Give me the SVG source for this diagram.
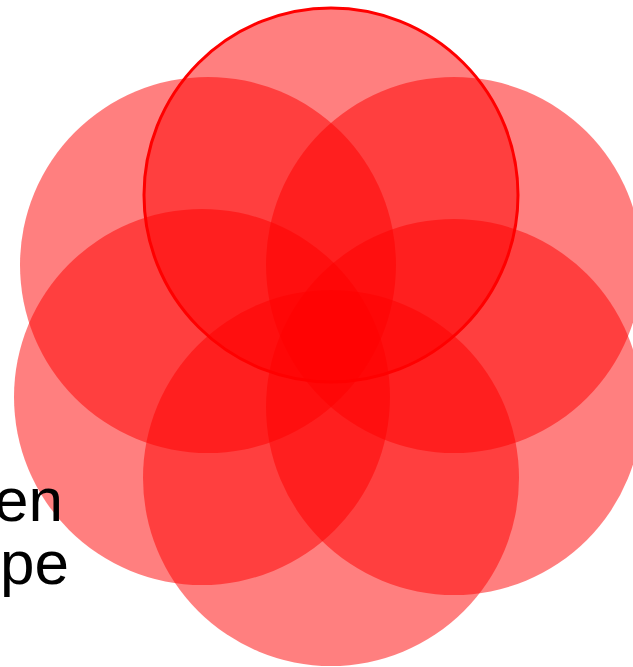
<svg xmlns="http://www.w3.org/2000/svg" width="633" height="667" viewBox="0 0 633 667">
<style>
.c{fill:#ff0000;fill-opacity:0.5}
.t{font-family:"Liberation Sans",Arial,sans-serif;font-size:62px;fill:#000;text-anchor:end}
</style>
<rect width="633" height="667" fill="#fff"/>
<g id="c-ul"><circle class="c" cx="208" cy="265" r="188"/></g>
<g id="c-ur"><circle class="c" cx="454" cy="265" r="188"/></g>
<g id="c-ml"><circle class="c" cx="202" cy="397" r="188"/></g>
<g id="c-mr"><circle class="c" cx="454" cy="407" r="188"/></g>
<g id="c-b"><circle class="c" cx="331" cy="478" r="188"/></g>
<g id="c-top"><circle class="c" cx="331" cy="195" r="187" stroke="#ff0000" stroke-width="3"/></g>
<g id="label"><text class="t" x="63" y="521">en</text><text class="t" x="69" y="584">pe</text></g>
</svg>
